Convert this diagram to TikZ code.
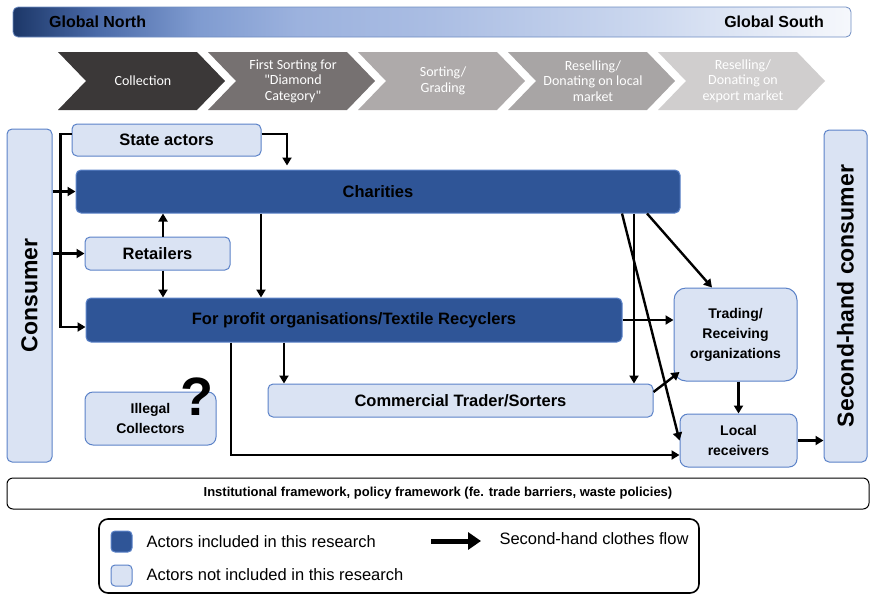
\documentclass[tikz,border=0pt]{standalone}
\usepackage{fontspec}
\setmainfont{Liberation Sans}
\newfontfamily\chevfont{Carlito}
\usetikzlibrary{arrows.meta}

\definecolor{darkblue}{HTML}{2F5597}
\definecolor{lightblue}{HTML}{DAE3F3}
\definecolor{boxline}{HTML}{5B82C8}
\definecolor{barline}{HTML}{6F8DC2}
\definecolor{chevA}{HTML}{3B3838}
\definecolor{chevB}{HTML}{767171}
\definecolor{chevC}{HTML}{AEAAAA}
\definecolor{chevD}{HTML}{A8A5A5}
\definecolor{chevE}{HTML}{D0CECE}

\pgfdeclarehorizontalshading{northsouth}{100bp}{
  color(0bp)=(rgb,255:red,28;green,55;blue,104);
  color(25bp)=(rgb,255:red,28;green,55;blue,104);
  color(30bp)=(rgb,255:red,74;green,106;blue,168);
  color(36bp)=(rgb,255:red,127;green,155;blue,208);
  color(42bp)=(rgb,255:red,156;green,178;blue,222);
  color(50bp)=(rgb,255:red,170;green,189;blue,227);
  color(63bp)=(rgb,255:red,204;green,216;blue,239);
  color(75bp)=(rgb,255:red,246;green,248;blue,252);
  color(100bp)=(rgb,255:red,246;green,248;blue,252)}

\newcommand\labfont{\fontsize{16.5}{19}\selectfont\bfseries}
\newcommand\smallfont{\fontsize{14}{20}\selectfont\bfseries}
\newcommand\sidefont{\fontsize{23}{26}\selectfont\bfseries}
\newcommand\legfont{\fontsize{16.5}{19}\selectfont}

\begin{document}
\begin{tikzpicture}[x=1pt, y=-1pt,
    flow/.style={line width=2.4pt, -{Triangle[length=8pt,width=9pt]}},
    lightbox/.style={draw=boxline, fill=lightblue, rounded corners=5pt, line width=1pt, inner sep=0pt},
    darkbox/.style={draw=boxline, fill=darkblue, rounded corners=5pt, line width=1pt, inner sep=0pt},
    chevtext/.style={text=white, align=center, font=\chevfont\fontsize{14}{15.5}\selectfont}]

  \useasboundingbox (0,0) rectangle (870,595);

  % North-South bar
  \node[draw=barline, line width=0.8pt, rounded corners=5pt, shading=northsouth,
        minimum width=838pt, minimum height=30pt] (bar) at (432,22) {};
  \node[anchor=west, inner sep=0pt, font=\fontsize{16}{18}\selectfont\bfseries] (north) at (49,22) {Global North};
  \node[anchor=east, inner sep=0pt, font=\fontsize{16}{18}\selectfont\bfseries] (south) at (824,22) {Global South};

  % process chevrons
  \foreach \i/\col/\txt in {0/chevA/{Collection},
                            1/chevB/{First Sorting for\\"Diamond\\Category"},
                            2/chevC/{Sorting/\\Grading},
                            3/chevD/{Reselling/\\Donating on local\\market},
                            4/chevE/{Reselling/\\Donating on\\export market}} {
    \fill[\col] (58+150*\i,52) -- ++(139,0) -- ++(28,29) -- ++(-28,29) -- ++(-139,0) -- ++(28,-29) -- cycle;
    \node[chevtext] (chev\i) at (143+150*\i,81) {\txt};
  }

  \begin{scope}[every node/.style={lightbox, font=\labfont}]
    \node[minimum width=45pt, minimum height=333pt] (cons) at (29.5,295.5) {};
    \node[minimum width=189pt, minimum height=32pt] (state) at (166.5,140) {State actors};
    \node[minimum width=145pt, minimum height=33pt] (ret) at (157.5,253.5) {Retailers};
    \node[minimum width=385pt, minimum height=33pt] (comm) at (460.5,400.5) {Commercial Trader/Sorters};
    \node[minimum width=131pt, minimum height=53pt, rounded corners=8pt, align=center, font=\smallfont] (ill) at (150.5,418.5) {Illegal\\Collectors};
    \node[minimum width=123pt, minimum height=93pt, rounded corners=12pt, align=center, font=\smallfont] (trad) at (735.5,334.5) {Trading/\\Receiving\\organizations};
    \node[minimum width=117pt, minimum height=53pt, rounded corners=8pt, align=center, font=\smallfont] (loc) at (738.5,440.5) {Local\\receivers};
    \node[minimum width=43pt, minimum height=332pt] (shc) at (845.5,296) {};
  \end{scope}

  \begin{scope}[every node/.style={darkbox, font=\labfont}]
    \node[minimum width=604pt, minimum height=43pt] (char) at (378,191.5) {Charities};
    \node[minimum width=536pt, minimum height=44pt] (prof) at (354,320) {For profit organisations/Textile Recyclers};
  \end{scope}

  \node[rotate=90, font=\sidefont] (consl) at (cons.center) {Consumer};
  \node[rotate=90, font=\sidefont] (shcl) at (shc.center) {Second-hand consumer};
  \node[font=\fontsize{54}{54}\selectfont\bfseries] (qm) at (197,397) {?};

  % flows
  \begin{scope}[every edge/.style={draw, flow}]
    \path (cons.east |- char.west) edge (char.west);
    \path (cons.east |- ret.west) edge (ret.west);
    \path ([xshift=5.5pt]ret.north) edge ([xshift=-215pt]char.south);
    \path ([xshift=5.5pt]ret.south) edge ([xshift=-191pt]prof.north);
    \path ([xshift=-117pt]char.south) edge ([xshift=-93pt]prof.north);
    \path ([xshift=-70pt]prof.south) edge ([xshift=-176.5pt]comm.north);
    \path ([xshift=256pt]char.south) edge ([xshift=173.5pt]comm.north);
    \path ([xshift=244pt]char.south) edge (loc.west);
    \path ([xshift=269pt]char.south) edge ([xshift=-23.5pt]trad.north);
    \path (prof.east) edge (prof.east -| trad.west);
    \path ([yshift=8.5pt]comm.east) edge ([xshift=6pt,yshift=-37.5pt]trad.west);
    \path (loc.north |- trad.south) edge (loc.north);
    \path (loc.east) edge (loc.east -| shc.west);
  \end{scope}
  \draw[flow] ([yshift=6pt]state.west) -- ++(-11,0) |- ([yshift=-7pt]prof.west);
  \draw[flow, shorten >=4pt] ([yshift=6pt]state.east) -| ([xshift=-91pt]char.north);
  \draw[flow] ([xshift=-123pt]prof.south) |- ([yshift=-14.5pt]loc.west);

  % framework and legend
  \node[draw, line width=1pt, rounded corners=6pt, minimum width=862pt, minimum height=31pt,
        font=\fontsize{13}{15}\selectfont\bfseries] (inst) at (438,493.5)
        {Institutional framework, policy framework (fe. trade barriers, waste policies)};
  \node[draw, line width=1.6pt, rounded corners=9pt, minimum width=600pt, minimum height=74pt] (leg) at (399,556) {};
  \node[darkbox, rounded corners=4pt, minimum size=21pt] (incl) at (121.5,541.5) {};
  \node[lightbox, rounded corners=4pt, minimum size=21pt] (excl) at (121.5,575.5) {};
  \node[anchor=west, font=\legfont] (incltxt) at (143,542) {Actors included in this research};
  \node[anchor=west, font=\legfont] (excltxt) at (143,575) {Actors not included in this research};
  \coordinate (la) at (431,541);
  \coordinate (lb) at (481,541);
  \draw[line width=5pt, -{Triangle[length=13pt,width=17pt]}] (la) -- (lb);
  \node[anchor=west, font=\legfont] (flowtxt) at (496,539) {Second-hand clothes flow};

\end{tikzpicture}
\end{document}
